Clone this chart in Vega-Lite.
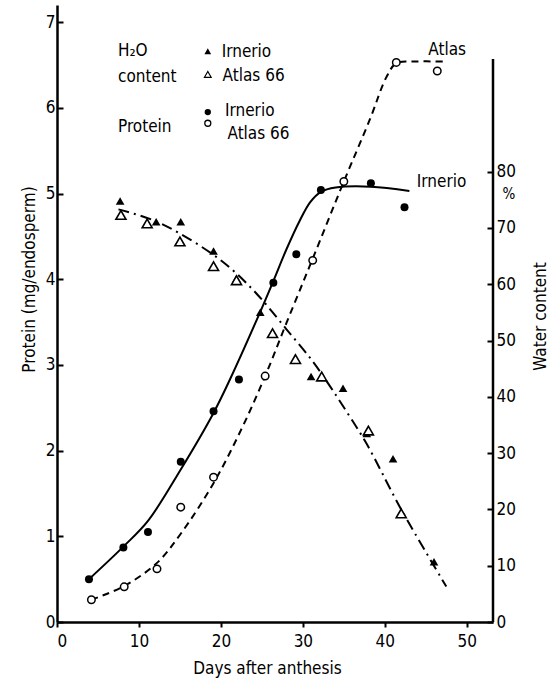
{
  "$schema": "https://vega.github.io/schema/vega-lite/v6.json",
  "width": 436,
  "height": 617,
  "autosize": {"type": "none"},
  "padding": {"left": 57, "top": 5, "right": 60, "bottom": 60},
  "background": "white",
  "config": {
    "view": {"stroke": null},
    "font": "DejaVu Sans Condensed",
    "text": {"font": "DejaVu Sans Condensed", "fontSize": 17, "color": "black"},
    "axis": {
      "labelFont": "DejaVu Sans Condensed",
      "titleFont": "DejaVu Sans Condensed",
      "labelFontSize": 17,
      "titleFontSize": 17,
      "titleFontWeight": "normal",
      "labelColor": "black",
      "titleColor": "black",
      "domainColor": "black",
      "tickColor": "black",
      "domainWidth": 2.5,
      "tickWidth": 2,
      "grid": false
    }
  },
  "datasets": {
    "irnProt": [
      {"day": 3.9, "p": 0.50}, {"day": 8.1, "p": 0.87}, {"day": 11.1, "p": 1.05},
      {"day": 15.1, "p": 1.87}, {"day": 19.1, "p": 2.46}, {"day": 22.2, "p": 2.83},
      {"day": 26.4, "p": 3.96}, {"day": 29.2, "p": 4.29}, {"day": 32.2, "p": 5.04},
      {"day": 38.3, "p": 5.12}, {"day": 42.4, "p": 4.84}
    ],
    "atlProt": [
      {"day": 4.2, "p": 0.26}, {"day": 8.2, "p": 0.41}, {"day": 12.2, "p": 0.62},
      {"day": 15.1, "p": 1.34}, {"day": 19.1, "p": 1.69}, {"day": 25.4, "p": 2.87},
      {"day": 31.2, "p": 4.22}, {"day": 35.0, "p": 5.14}, {"day": 41.4, "p": 6.53},
      {"day": 46.4, "p": 6.43}
    ],
    "irnCurve": [
      {"day": 3.9, "p": 0.50}, {"day": 8.1, "p": 0.88}, {"day": 11.1, "p": 1.18},
      {"day": 15.1, "p": 1.78}, {"day": 19.1, "p": 2.44}, {"day": 21.1, "p": 2.83},
      {"day": 24.8, "p": 3.62}, {"day": 26.4, "p": 3.98}, {"day": 28.0, "p": 4.35},
      {"day": 29.6, "p": 4.68}, {"day": 30.9, "p": 4.90}, {"day": 32.2, "p": 5.02},
      {"day": 34.0, "p": 5.07}, {"day": 38.3, "p": 5.08}, {"day": 43.0, "p": 5.03}
    ],
    "atlCurve": [
      {"day": 4.2, "p": 0.26}, {"day": 8.2, "p": 0.42}, {"day": 12.2, "p": 0.69},
      {"day": 15.1, "p": 1.03}, {"day": 19.1, "p": 1.62}, {"day": 22.5, "p": 2.25},
      {"day": 25.4, "p": 2.87}, {"day": 28.0, "p": 3.49}, {"day": 31.2, "p": 4.24},
      {"day": 35.0, "p": 5.14}, {"day": 38.2, "p": 5.87},
      {"day": 40.2, "p": 6.36}, {"day": 41.4, "p": 6.52}, {"day": 43.5, "p": 6.54},
      {"day": 47.1, "p": 6.54}
    ],
    "irnWater": [
      {"day": 7.7, "w": 74.8}, {"day": 12.1, "w": 71.1}, {"day": 15.1, "w": 71.1},
      {"day": 19.1, "w": 65.9}, {"day": 21.9, "w": 61.0}, {"day": 24.8, "w": 55.0},
      {"day": 31.0, "w": 43.6}, {"day": 34.9, "w": 41.5}, {"day": 37.8, "w": 33.5},
      {"day": 41.0, "w": 29.0}, {"day": 46.0, "w": 10.7}
    ],
    "atlWater": [
      {"day": 7.8, "w": 72.3}, {"day": 11.0, "w": 70.8}, {"day": 15.0, "w": 67.6},
      {"day": 19.1, "w": 63.2}, {"day": 21.9, "w": 60.7}, {"day": 26.3, "w": 51.3},
      {"day": 29.1, "w": 46.7}, {"day": 32.3, "w": 43.6}, {"day": 38.0, "w": 34.0},
      {"day": 42.0, "w": 19.3}
    ],
    "waterCurve": [
      {"day": 7.5, "w": 73.3}, {"day": 11.7, "w": 71.4}, {"day": 15.0, "w": 69.0},
      {"day": 19.1, "w": 65.2}, {"day": 21.9, "w": 61.9}, {"day": 24.8, "w": 57.6},
      {"day": 28.0, "w": 52.0}, {"day": 31.2, "w": 46.3}, {"day": 33.3, "w": 41.9},
      {"day": 35.5, "w": 37.0}, {"day": 37.8, "w": 31.6}, {"day": 42.0, "w": 20.0},
      {"day": 47.5, "w": 6.3}
    ],
    "labels": [
      {"day": 45.3, "p": 6.68, "label": "Atlas"},
      {"day": 43.9, "p": 5.13, "label": "Irnerio"},
      {"day": 7.44, "p": 6.66, "label": "H₂O"},
      {"day": 7.44, "p": 6.36, "label": "content"},
      {"day": 7.44, "p": 5.78, "label": "Protein"},
      {"day": 20.1, "p": 6.65, "label": "Irnerio"},
      {"day": 20.2, "p": 6.37, "label": "Atlas 66"},
      {"day": 20.5, "p": 5.96, "label": "Irnerio"},
      {"day": 20.8, "p": 5.70, "label": "Atlas 66"}
    ],
    "legFilledTri": [{"day": 18.4, "p": 6.66}],
    "legOpenTri": [{"day": 18.4, "p": 6.39}],
    "legFilledDot": [{"day": 18.4, "p": 5.95}],
    "legOpenDot": [{"day": 18.4, "p": 5.82}],
    "rightAxis": [{"day": 53.2, "w": 0, "w2": 100}],
    "pct": [{"day": 55.15, "w": 76.0, "label": "%"}]
  },
  "encoding": {
    "x": {
      "field": "day",
      "type": "quantitative",
      "scale": {"domain": [0, 53.2], "nice": false, "zero": false},
      "axis": {
        "title": "Days after anthesis",
        "values": [0, 10, 20, 30, 40, 50],
        "tickSize": 5,
        "labelPadding": 6,
        "titleX": 210,
        "titleY": 46,
        "titleAlign": "center",
        "titleBaseline": "middle"
      }
    }
  },
  "layer": [
    {
      "encoding": {
        "y": {
          "field": "p",
          "type": "quantitative",
          "scale": {"domain": [0, 7.2], "nice": false},
          "axis": {
            "title": "Protein (mg/endosperm)",
            "values": [0, 1, 2, 3, 4, 5, 6, 7],
            "tickSize": -6,
            "labelPadding": 8,
            "titleAngle": -90,
            "titleX": -28,
            "titleY": 274,
            "titleAlign": "center",
            "titleBaseline": "middle"
          }
        }
      },
      "layer": [
        {"data": {"name": "irnCurve"}, "mark": {"type": "line", "color": "black", "strokeWidth": 2, "interpolate": "catmull-rom"}},
        {"data": {"name": "atlCurve"}, "mark": {"type": "line", "color": "black", "strokeWidth": 2, "strokeDash": [7, 5], "interpolate": "catmull-rom"}},
        {"data": {"name": "irnProt"}, "mark": {"type": "point", "shape": "circle", "filled": true, "color": "black", "size": 64, "opacity": 1}},
        {"data": {"name": "atlProt"}, "mark": {"type": "point", "shape": "circle", "filled": true, "fill": "white", "stroke": "black", "strokeWidth": 1.5, "size": 56, "opacity": 1}},
        {"data": {"name": "legFilledTri"}, "mark": {"type": "point", "shape": "triangle-up", "filled": true, "color": "black", "size": 45, "opacity": 1}},
        {"data": {"name": "legOpenTri"}, "mark": {"type": "point", "shape": "triangle-up", "filled": true, "fill": "white", "stroke": "black", "strokeWidth": 1.2, "size": 45, "opacity": 1}},
        {"data": {"name": "legFilledDot"}, "mark": {"type": "point", "shape": "circle", "filled": true, "color": "black", "size": 40, "opacity": 1}},
        {"data": {"name": "legOpenDot"}, "mark": {"type": "point", "shape": "circle", "filled": true, "fill": "white", "stroke": "black", "strokeWidth": 1.3, "size": 36, "opacity": 1}},
        {"data": {"name": "labels"}, "mark": {"type": "text", "align": "left", "baseline": "middle", "fontSize": 17}, "encoding": {"text": {"field": "label"}}}
      ]
    },
    {
      "encoding": {
        "y": {
          "field": "w",
          "type": "quantitative",
          "scale": {"domain": [0, 109.6], "nice": false},
          "axis": {
            "orient": "right",
            "title": "Water content",
            "domain": false,
            "values": [0, 10, 20, 30, 40, 50, 60, 70, 80],
            "tickSize": -6,
            "labelPadding": 9,
            "titleAngle": -90,
            "titleX": 47,
            "titleY": 311,
            "titleAlign": "center",
            "titleBaseline": "middle"
          }
        }
      },
      "layer": [
        {"data": {"name": "rightAxis"}, "mark": {"type": "rule", "color": "black", "strokeWidth": 2.5}, "encoding": {"y2": {"field": "w2"}}},
        {"data": {"name": "waterCurve"}, "mark": {"type": "line", "color": "black", "strokeWidth": 2, "strokeDash": [11, 5, 2, 5], "interpolate": "catmull-rom"}},
        {"data": {"name": "irnWater"}, "mark": {"type": "point", "shape": "triangle-up", "filled": true, "color": "black", "size": 75, "opacity": 1}},
        {"data": {"name": "atlWater"}, "mark": {"type": "point", "shape": "triangle-up", "filled": true, "fill": "white", "stroke": "black", "strokeWidth": 1.6, "size": 100, "opacity": 1}},
        {"data": {"name": "pct"}, "mark": {"type": "text", "align": "center", "baseline": "middle", "fontSize": 15}, "encoding": {"text": {"field": "label"}}}
      ]
    }
  ],
  "resolve": {"scale": {"y": "independent"}, "axis": {"y": "independent"}}
}
